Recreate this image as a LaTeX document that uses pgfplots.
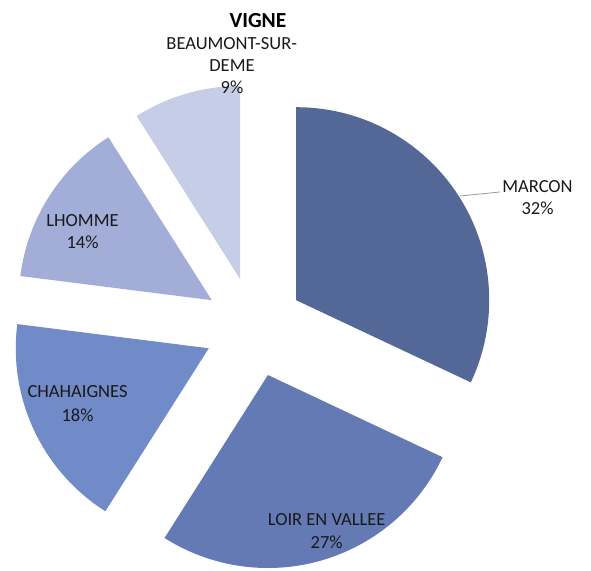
\documentclass[border=0pt]{standalone}
\usepackage{pgfplots}
\pgfplotsset{compat=1.18}
\usepackage{pgfplotstable}
\usepackage{fontspec}
\setmainfont{Carlito}
\definecolor{c0}{RGB}{84,104,152}
\definecolor{c1}{RGB}{100,122,180}
\definecolor{c2}{RGB}{113,138,200}
\definecolor{c3}{RGB}{162,174,216}
\definecolor{c4}{RGB}{198,205,230}
\pgfplotstableread[col sep=comma]{
name,pct
MARCON,32
LOIR EN VALLEE,27
CHAHAIGNES,18
LHOMME,14
BEAUMONT-SUR-DEME,9
}\piedata
\begin{document}
\begin{tikzpicture}
\gdef\cum{0}
\foreach \i in {0,...,4}{
  \pgfplotstablegetelem{\i}{pct}\of\piedata
  \pgfmathsetmacro\tmpa{90-3.6*\cum}
  \pgfmathsetmacro\tmpb{90-3.6*(\cum+\pgfplotsretval)}
  \pgfmathsetmacro\tmpm{(\tmpa+\tmpb)/2}
  \expandafter\xdef\csname sa\i\endcsname{\tmpa}
  \expandafter\xdef\csname sb\i\endcsname{\tmpb}
  \expandafter\xdef\csname sm\i\endcsname{\tmpm}
  \pgfmathsetmacro\tmpc{\cum+\pgfplotsretval}
  \global\let\cum\tmpc
}
\begin{axis}[x=1pt,y=1pt,xmin=0,xmax=591,ymin=0,ymax=570,
  hide axis,scale only axis,clip=false]
\pgfplotsinvokeforeach{0,...,4}{
  \fill[c#1] (axis cs:254,243) ++(\csname sm#1\endcsname:50pt)
     -- ++(\csname sa#1\endcsname:193pt)
     arc[start angle=\csname sa#1\endcsname,end angle=\csname sb#1\endcsname,radius=193pt]
     -- cycle;
}
\draw[gray!80,line width=0.8pt] (axis cs:460,374) -- (axis cs:500,378);
\tikzset{lab/.style={anchor=base,inner sep=0pt,font=\fontsize{18.5}{22}\selectfont,text=black!90}}
\node[anchor=base,inner sep=0pt,font=\bfseries\fontsize{21.5}{26}\selectfont] at (axis cs:258,542) {VIGNE};
\node[lab] at (axis cs:231.7,520) {BEAUMONT-SUR-};
\node[lab] at (axis cs:232,498) {DEME};
\node[lab] at (axis cs:232,476) {9\%};
\node[lab] at (axis cs:537.5,377) {MARCON};
\node[lab] at (axis cs:537.5,355) {32\%};
\node[lab] at (axis cs:82.5,343) {LHOMME};
\node[lab] at (axis cs:82.5,321) {14\%};
\node[lab] at (axis cs:77.5,172) {CHAHAIGNES};
\node[lab] at (axis cs:77.5,149) {18\%};
\node[lab] at (axis cs:326.7,45) {LOIR EN VALLEE};
\node[lab] at (axis cs:326.7,22) {27\%};
\end{axis}
\pgfresetboundingbox
\useasboundingbox (current axis.south west) rectangle (current axis.north east);
\end{tikzpicture}
\end{document}
